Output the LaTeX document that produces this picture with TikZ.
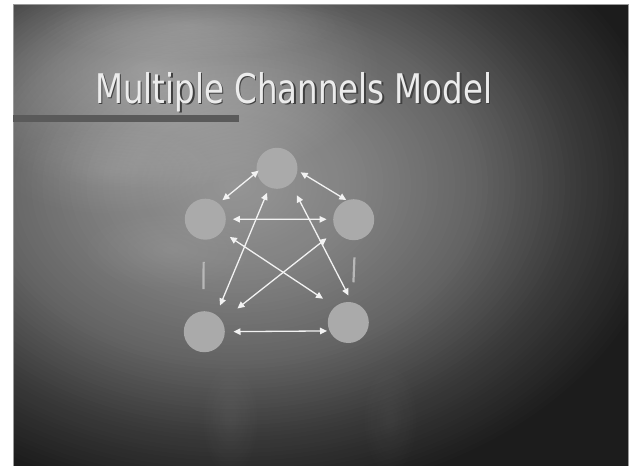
\documentclass[tikz,border=0pt]{standalone}
\usepackage{fontspec}
\newfontfamily\titlefont{DejaVu Sans}
\usetikzlibrary{arrows.meta,fadings}
\definecolor{bgE}{HTML}{1C1C1C}
\definecolor{nodegray}{HTML}{AAAAAA}
\definecolor{arrowwhite}{HTML}{F2F2F2}
\definecolor{stubgray}{HTML}{B8B8B8}
\definecolor{bargray}{HTML}{5A5A5A}
\definecolor{titlewhite}{HTML}{ECECEC}
\definecolor{framegray}{HTML}{9A9A9A}
\tikzfading[name=softblob, inner color=transparent!0, outer color=transparent!100]
\tikzset{
  chan/.style={circle, fill=nodegray, minimum size=41pt, inner sep=0pt},
  link/.style={draw=arrowwhite, line width=1.3pt,
    {Triangle[length=7pt,width=6.5pt]}-{Triangle[length=7pt,width=6.5pt]}},
  stub/.style={draw=stubgray, line width=2.2pt},
}
\begin{document}
\begin{tikzpicture}[x=1pt,y=-1pt]
\useasboundingbox (0,0) rectangle (630,466);
\fill[white] (0,0) rectangle (630,466);
\begin{scope}
  \clip (13,4) rectangle (628,466);
  \fill[bgE] (13,4) rectangle (628,466);
  \foreach \s in {1.00,0.9875,...,0.01} {
    \pgfmathsetmacro\g{\s<0.3 ? (150-(150-128)*\s/0.3) : (\s<0.55 ? (128-(128-100)*(\s-0.3)/0.25) : (\s<0.8 ? (100-(100-56)*(\s-0.55)/0.25) : (56-(56-28)*(\s-0.8)/0.2)))}
    \pgfmathsetmacro\gg{\g/255}
    \definecolor{ring}{gray}{\gg}
    \fill[ring] (235,185) ellipse ({440*\s} and {320*\s});
  }
  \fill[white, path fading=softblob, opacity=0.30] (150,70) ellipse (230 and 120);
  \fill[white, path fading=softblob, opacity=0.14] (190,25) ellipse (150 and 35);
  \fill[white, path fading=softblob, opacity=0.10] (110,170) ellipse (110 and 45);
  \fill[white, path fading=softblob, opacity=0.07] (170,250) ellipse (90 and 40);
  \fill[white, path fading=softblob, opacity=0.05] (230,420) ellipse (30 and 60);
  \fill[white, path fading=softblob, opacity=0.04] (390,420) ellipse (30 and 60);
\end{scope}
\draw[framegray, line width=0.8pt] (13,466) -- (13,4) -- (628,4) -- (628,466);
\fill[bargray] (13,115) rectangle (239,122);
\node[anchor=base west, inner sep=0pt, text=black!75] (titleshadow) at (96.5,104.5)
  {\resizebox{397pt}{31pt}{\titlefont Multiple Channels Model}};
\node[anchor=base west, inner sep=0pt, text=titlewhite] (title) at (95,103)
  {\resizebox{397pt}{31pt}{\titlefont Multiple Channels Model}};
\node[chan] (T)  at (277,168.3) {};
\node[chan] (L)  at (205.3,219.2) {};
\node[chan] (R)  at (353.7,219.7) {};
\node[chan] (BL) at (204.3,331.7) {};
\node[chan] (BR) at (348.3,322.5) {};
\draw[link, shorten <=-2.5pt, shorten >=5pt]   (T.191) -- (L.50);
\draw[link, shorten <=3.6pt, shorten >=0.4pt]  (T.354) -- (R.110);
\draw[link, shorten <=6.9pt, shorten >=6.5pt]  (L.0) -- (R.179);
\draw[link, shorten <=5.8pt, shorten >=10pt]   (T.248) -- (BL.55);
\draw[link, shorten <=13pt, shorten >=7.4pt]   (T.312) -- (BR.80);
\draw[link, shorten <=9.6pt, shorten >=14.4pt] (L.323) -- (BR.130);
\draw[link, shorten <=12.3pt, shorten >=19.8pt] (R.212) -- (BL.32);
\draw[link, shorten <=8.5pt, shorten >=2.4pt]  (BL.0) -- (BR.204);
\draw[stub, shorten <=22pt, shorten >=22pt]    (L.266) -- (BL.93);
\draw[stub, shorten <=17pt, shorten >=20pt] (R.274) -- (BR.78);
\end{tikzpicture}
\end{document}
